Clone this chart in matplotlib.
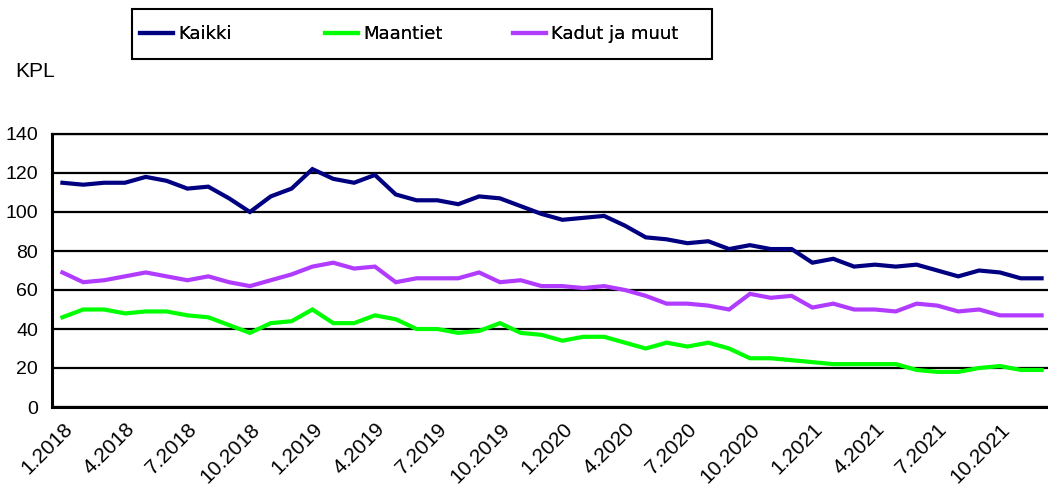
import matplotlib
matplotlib.use("Agg")
import matplotlib.pyplot as plt
import matplotlib.transforms as mtransforms
from matplotlib.patches import Rectangle
import numpy as np

# monthly counts 1.2018 - 12.2021
years = [2018, 2019, 2020, 2021]
months = [f"{m}.{y}" for y in years for m in range(1, 13)]

kaikki = [115, 114, 115, 115, 118, 116, 112, 113, 107, 100, 108, 112,
          122, 117, 115, 119, 109, 106, 106, 104, 108, 107, 103, 99,
          96, 97, 98, 93, 87, 86, 84, 85, 81, 83, 81, 81,
          74, 76, 72, 73, 72, 73, 70, 67, 70, 69, 66, 66]
maantiet = [46, 50, 50, 48, 49, 49, 47, 46, 42, 38, 43, 44,
            50, 43, 43, 47, 45, 40, 40, 38, 39, 43, 38, 37,
            34, 36, 36, 33, 30, 33, 31, 33, 30, 25, 25, 24,
            23, 22, 22, 22, 22, 19, 18, 18, 20, 21, 19, 19]
kadut = [69, 64, 65, 67, 69, 67, 65, 67, 64, 62, 65, 68,
         72, 74, 71, 72, 64, 66, 66, 66, 69, 64, 65, 62,
         62, 61, 62, 60, 57, 53, 53, 52, 50, 58, 56, 57,
         51, 53, 50, 50, 49, 53, 52, 49, 50, 47, 47, 47]

series = [("Kaikki", kaikki, "#000080"),
          ("Maantiet", maantiet, "#00FF00"),
          ("Kadut ja muut", kadut, "#B13BFF")]

plt.rcParams['font.family'] = ['Liberation Sans', 'DejaVu Sans']

W, H = 1048, 488
fig = plt.figure(figsize=(W / 100, H / 100), dpi=100, facecolor='white')
ax = fig.add_axes([52 / W, 81 / H, 1000 / W, 273 / H])

x = np.arange(len(months))
lines = []
for name, vals, col in series:
    ln, = ax.plot(x, vals, color=col, linewidth=3, label=name, solid_joinstyle='miter')
    lines.append(ln)

ax.set_xlim(-0.5, len(months) - 0.5)
ax.set_ylim(0, 140)
ax.set_yticks(np.arange(0, 141, 20))
ax.tick_params(axis='y', length=0, pad=10, labelsize=14)

tick_idx = x[::3]
ax.set_xticks(tick_idx)
ax.set_xticklabels([months[i] for i in tick_idx], rotation=45, ha='right',
                   va='center', rotation_mode='anchor', fontsize=15)
ax.tick_params(axis='x', length=0, pad=14)
offset = mtransforms.ScaledTranslation(7 / 100, 0, fig.dpi_scale_trans)
for lab in ax.get_xticklabels():
    lab.set_transform(lab.get_transform() + offset)

ax.grid(axis='y', color='black', linewidth=1.6)
ax.set_axisbelow(True)
for side in ['left', 'bottom']:
    ax.spines[side].set_linewidth(2.2)
ax.spines['top'].set_linewidth(1.6)
ax.spines['right'].set_visible(False)

fig.text(15 / W, 1 - 77 / H, "KPL", fontsize=15, va='baseline', ha='left')

# legend box drawn separately, entries placed at a fixed pitch like in Excel
fig.patches.append(Rectangle((132 / W, 1 - 59 / H), 580 / W, 50 / H,
                             transform=fig.transFigure, fill=False,
                             edgecolor='black', linewidth=1.5))
legend_x = [140, 325, 513]
for ln, lx in zip(lines, legend_x):
    leg = fig.legend(handles=[ln], loc='upper left',
                     bbox_to_anchor=(lx / W, 1 - 25 / H), frameon=False,
                     borderpad=0, handlelength=1.8, handletextpad=0.3,
                     borderaxespad=0, prop={'family': 'DejaVu Sans', 'size': 13})
    fig.add_artist(leg)

fig.savefig("out.png", dpi=100, facecolor='white')
